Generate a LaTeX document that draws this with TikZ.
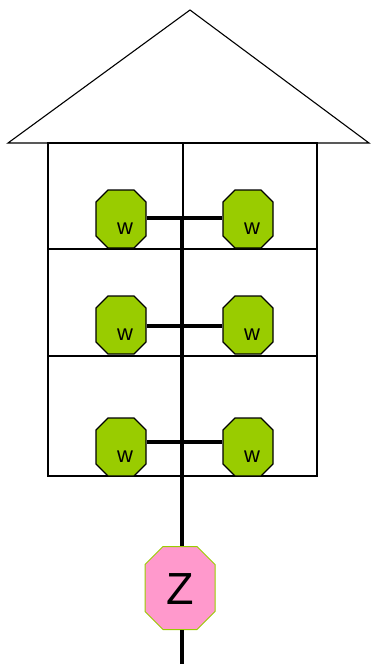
\documentclass[tikz,border=0pt]{standalone}
\usepackage{fontspec}
\setmainfont{Liberation Sans}
\usetikzlibrary{shapes.misc}

\definecolor{leaf}{HTML}{99CC00}
\definecolor{rose}{HTML}{FF99CC}

\newcommand\wbox{\phantom{\rule{38pt}{46pt}}}

\tikzset{
    octa/.style={chamfered rectangle, inner sep=0pt},
    wnode/.style={octa, draw=black, line width=1.3pt, fill=leaf,
        chamfered rectangle xsep=6pt, chamfered rectangle ysep=6pt,
        label={[wtext]center:w}},
    wtext/.style={font=\fontsize{22}{22}\selectfont, xshift=4pt, yshift=-10pt},
    znode/.style={octa, draw=leaf, line width=1pt, fill=rose,
        chamfered rectangle xsep=9pt, chamfered rectangle ysep=9pt,
        text width=52pt, align=center, text height=48.5pt, text depth=16.5pt,
        font=\fontsize{45}{45}\selectfont},
    wall/.style={line width=1.5pt},
    bar/.style={line width=4pt}
}

\begin{document}
\begin{tikzpicture}[x=1pt, y=-1pt]
    \useasboundingbox (0,0) rectangle (370,664);

    % roof
    \draw[line width=1.1pt, line join=miter] (8,143) -- (190,10) -- (369,143) -- cycle;

    % house
    \draw[wall] (48,143) rectangle (317,476);
    \draw[wall] (48,249) -- (317,249);
    \draw[wall] (48,356) -- (317,356);
    \draw[wall] (183,143) -- (183,249);

    % spine
    \coordinate (top) at (182,218);
    \coordinate (bot) at (182,664);
    \node[znode] (z) at (180,588) {Z};
    \draw[bar] (top) -- (top |- z.north);
    \draw[bar] (bot |- z.south) -- (bot);

    % w pairs (centre, lift of the bar)
    \foreach \i/\y/\d in {1/219/1, 2/325/-1, 3/447/5} {
        \node[wnode] (wl\i) at (121,\y) {\wbox};
        \node[wnode] (wr\i) at (248,\y) {\wbox};
        \draw[bar] ([yshift=\d pt]wl\i.east) -- ([yshift=\d pt]wr\i.west);
    }

\end{tikzpicture}
\end{document}
